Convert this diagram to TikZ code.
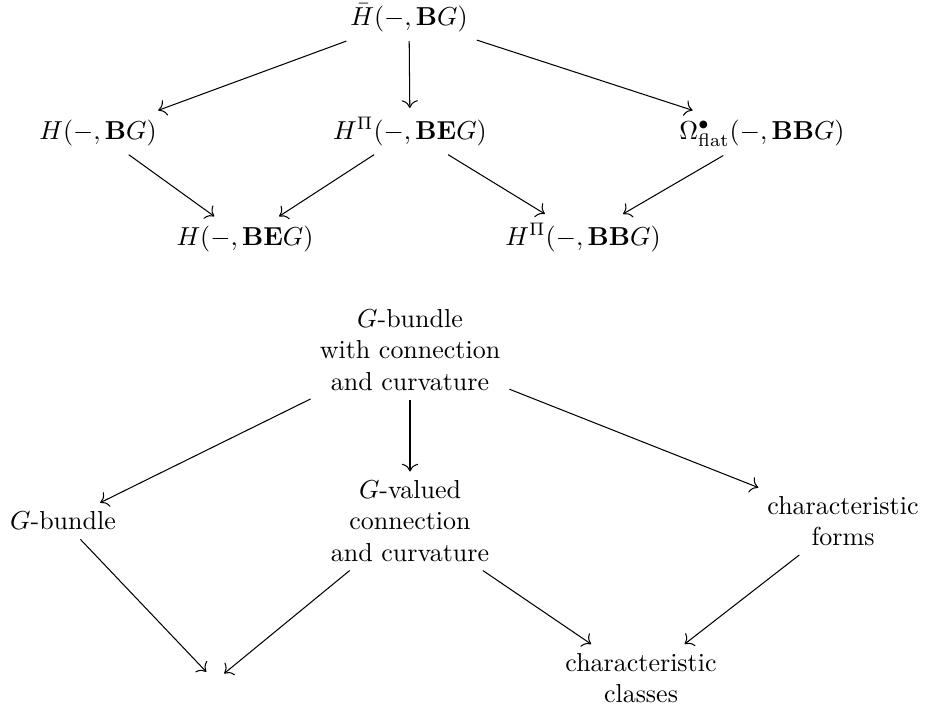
\documentclass[tikz,border=0pt]{standalone}
\usepackage{amsmath, amssymb}
\usetikzlibrary{arrows.meta}

\begin{document}
\begin{tikzpicture}[x=0.385pt, y=-0.385pt,
    map/.style={-{Computer Modern Rightarrow[scale=1.2]}},
    box/.style={align=center}]
    \useasboundingbox (0,0) rectangle (925,711);

    % 1. Cohomology diagram - top
    \node (Hbar) at (409, 18) {$\bar{H}(-,\mathbf{B}G)$};
    \node[anchor=base] (HBG) at (98, 139) {$H(-,\mathbf{B}G)$};
    \node[anchor=base] (HPiBEG) at (410, 139) {$H^{\Pi}(-,\mathbf{BE}G)$};
    \node[anchor=base] (Omega) at (762, 139) {$\Omega^{\bullet}_{\mathrm{flat}}(-,\mathbf{BB}G)$};
    \node[anchor=base] (HBEG) at (245, 245) {$H(-,\mathbf{BE}G)$};
    \node[anchor=base] (HPiBBG) at (583, 245) {$H^{\Pi}(-,\mathbf{BB}G)$};

    \draw[map] (Hbar) -- (HBG);
    \draw[map] (Hbar) -- (HPiBEG);
    \draw[map] (Hbar) -- (Omega);
    \draw[map] (HBG) -- (HBEG);
    \draw[map] (HPiBEG) -- (HBEG);
    \draw[map] (HPiBEG) -- (HPiBBG);
    \draw[map] (Omega) -- (HPiBBG);

    % 2. Geometric meaning - bottom
    \node[box] (Conn) at (410, 350) {$G$-bundle\\with connection\\and curvature};
    \node (Bun) at (63, 521) {$G$-bundle};
    \node[box] (Val) at (410, 521) {$G$-valued\\connection\\and curvature};
    \node[box] (Forms) at (843, 521) {characteristic\\forms};
    \node (Sink) at (215, 681) {};
    \node[box] (Classes) at (641, 678) {characteristic\\classes};

    \draw[map] (Conn) -- (Bun);
    \draw[map] (Conn) -- (Val);
    \draw[map] (Conn) -- (Forms);
    \draw[map] (Bun) -- (Sink);
    \draw[map] (Val) -- (Sink);
    \draw[map] (Val) -- (Classes);
    \draw[map] (Forms) -- (Classes);
\end{tikzpicture}
\end{document}
